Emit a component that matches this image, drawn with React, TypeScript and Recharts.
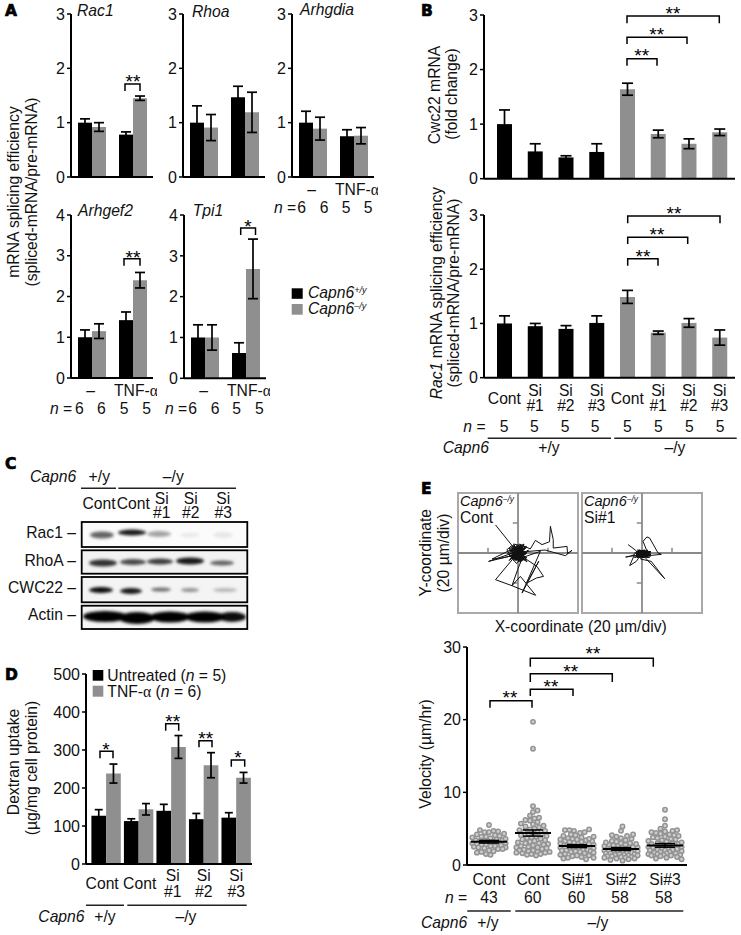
import {
  BarChart,
  Bar,
  Cell,
  ErrorBar,
  XAxis,
  YAxis,
  LineChart,
  Line,
  ScatterChart,
  Scatter,
  ReferenceLine,
  ReferenceArea,
} from "recharts";

const BLACK = "#000000";
const GRAY = "#8f8f8f";
const FONT = "'Liberation Sans', Arial, sans-serif";
const TEXT_SIZE = 15.7;
const TICK_SIZE = 16;

// panel A: order is [untreated, TNF] for each genotype
const treatLabels = ["–", "TNF-α"];
const rac1Wt = [1.0, 0.78];
const rac1WtErr = [0.07, 0.05];
const rac1Ko = [0.92, 1.45];
const rac1KoErr = [0.08, 0.04];
const rhoaWt = [1.0, 1.47];
const rhoaWtErr = [0.31, 0.2];
const rhoaKo = [0.91, 1.19];
const rhoaKoErr = [0.24, 0.37];
const arhgdiaWt = [1.0, 0.75];
const arhgdiaWtErr = [0.21, 0.12];
const arhgdiaKo = [0.89, 0.76];
const arhgdiaKoErr = [0.21, 0.15];
const arhgef2Wt = [1.0, 1.42];
const arhgef2WtErr = [0.18, 0.2];
const arhgef2Ko = [1.15, 2.4];
const arhgef2KoErr = [0.18, 0.19];
const tpi1Wt = [1.0, 0.62];
const tpi1WtErr = [0.31, 0.25];
const tpi1Ko = [1.0, 2.68];
const tpi1KoErr = [0.31, 0.73];
const nValues = ["6", "6", "5", "5"];

// panel B
const siLabels = ["Cont", "Si\n#1", "Si\n#2", "Si\n#3", "Cont", "Si\n#1", "Si\n#2", "Si\n#3"];
const cwc22Means = [1.0, 0.5, 0.39, 0.49, 1.64, 0.82, 0.64, 0.85];
const cwc22Errs = [0.26, 0.14, 0.03, 0.15, 0.11, 0.07, 0.09, 0.06];
const rac1SplicingMeans = [1.0, 0.95, 0.9, 1.01, 1.49, 0.83, 1.01, 0.74];
const rac1SplicingErrs = [0.14, 0.05, 0.06, 0.13, 0.12, 0.03, 0.08, 0.14];

// panel D
const dextranLabels = ["Cont", "Cont", "Si\n#1", "Si\n#2", "Si\n#3"];
const dextranUntreated = [127, 113, 140, 118, 122];
const dextranUntreatedErr = [16, 6, 17, 15, 13];
const dextranTnf = [238, 144, 308, 260, 227];
const dextranTnfErr = [25, 15, 30, 33, 14];

// panel E tracks, in µm
const contTrack = [
  [-15, 18.7], [-4, 5], [-7.4, 2.2], [-5, -2], [3, 4], [-2, -5], [5, 1], [-6, 3], [1, -6], [6, -3],
  [-4, -1], [2, 5], [-3, -4], [7, 2], [-1, -7], [-7, 0], [4, 6], [0, -3], [5, -5], [-5, 4],
  [4, 3], [-3, -5], [5, 4], [-6, -1], [2, -6], [-4, 5], [6, 0], [-2, -3], [3, 5], [-5, -4], [1, 6],
  [8.2, 2.7], [11.6, 8.4], [16, 5.6], [21, 7.5], [21.6, 17.8], [23.5, 8.9], [23.5, 3.3], [32.7, 4.4],
  [33, -0.4], [36, 1.8], [31.6, -1.8], [18, 2], [6, 1], [2, -2], [-3, 6], [6, 4], [-6, -5], [1, 2],
  [-2, -2], [4, -4], [-5, 2], [3, -5], [-4, -3], [5, 3], [-19.6, -5.6], [-1, -1], [-15, -17.8], [-4, -21.8],
  [1.6, -15.6], [11.8, -28.2], [-4, -21.8], [-0.2, -11], [3, -3], [14.9, 1.1], [2.7, -26.7], [13.8, -5.6],
  [6, -20], [12.2, -16.7], [17, -15.6], [12.6, -8.9], [6, -4.5], [-4, 2], [3, 0], [-1, 4], [-17.3, -4],
  [-10.7, -3.3], [0, -1], [2, 3], [-3, -1], [1, -4], [-1, 1], [3, -2], [-2, 3], [1, 0], [-1, -2],
  [4, 3], [-4, -4], [5, -1], [-3, 5], [2, -5], [-5, 0], [0, 5], [6, -6], [-2, 1], [3, 2], [-3, -3],
  [2, 0], [-1, 3], [1, -2], [0, 1], [-2, -1], [2, 2], [-1, 0], [1, 1], [4, -2], [-4, 1], [3, -4],
  [-3, 3], [5, -3], [-5, -2], [2, 4], [-2, -4], [4, 1], [-4, -1], [1, -5], [-1, 5], [3, 3], [-3, 0],
  [2, -3], [-2, 2], [0, -4], [0, 3], [4, -1], [-4, 3], [1, 4], [-1, -5], [3, 1], [-3, 2], [2, 1],
  [-2, 0], [1, -1], [-1, 2], [0, -2], [0, 2], [2, -1], [-2, -3], [1, 3], [-1, -4], [3, 1], [-3, -2],
];
const siTrack = [
  [-9.3, 5.6], [-4.2, 1.8], [-1, -2], [3, 1], [-3, -3], [5, -1], [-4, 1], [4, -3], [-2, 2], [6, 0],
  [-10.9, -2.7], [-7.5, -2], [-5, -1], [-8.2, -8.4], [-3.8, -5.6], [-2, -3], [3, 2], [0.7, 7.8],
  [3.3, 10.7], [5.1, 10], [10.7, 0], [12.9, -0.9], [2, -2], [-3, 1], [5, 1], [-5, -2], [4, 2], [-1, -4],
  [6.2, -5.6], [15.1, -17.1], [2, -3], [-4, -2], [5, -2], [-2, 1], [3, -3], [-5, 0], [6, 1], [-3, -3],
  [2, 2], [-4, 1], [4, -1], [-1, -3], [3, 1], [-3, 0], [2, -2], [-2, -1], [4, 0], [0, 1], [1, -2],
  [5, -3], [-4, -1], [6, -2], [-3, 2], [4, 1], [-5, -3], [3, -1], [-2, -3], [1, 2], [-1, -1], [5, 0],
  [-4, 0], [2, -3], [-3, -2], [6, -1], [-2, 0], [3, 0], [-1, 1], [4, -2], [0, -3], [2, 0], [-3, -1],
  [1, -1], [-1, -2], [0, 0], [2, -1], [-2, -2], [3, -2], [1, 1],
];

// panel E velocity
const velocityLabels = ["Cont", "Cont", "Si#1", "Si#2", "Si#3"];
const velocityN = ["43", "60", "60", "58", "58"];
const velocityMeans = [3.2, 4.4, 2.6, 2.2, 2.7];
const velocitySems = [0.18, 0.42, 0.2, 0.2, 0.25];
const velocityWt = [
  5.5, 4.8, 4.7, 4.6, 4.5, 4.5, 4.3, 4.2, 4.1, 4.0, 3.9, 3.9, 3.8, 3.7, 3.6, 3.5, 3.4, 3.4, 3.3, 3.3, 3.2, 3.2,
  3.1, 3.0, 3.0, 2.9, 2.8, 2.8, 2.7, 2.6, 2.6, 2.5, 2.4, 2.4, 2.3, 2.2, 2.2, 2.0, 1.9, 1.8, 1.7, 1.5, 1.4,
];
const velocityCont = [
  19.7, 16.0, 8.1, 7.5, 7.3, 6.8, 6.5, 6.4, 6.2, 6.1, 5.9, 5.7, 5.6, 5.4, 5.3, 5.2, 5.0, 4.9, 4.8, 4.7, 4.6, 4.5,
  4.4, 4.3, 4.2, 4.1, 4.0, 3.9, 3.8, 3.7, 3.6, 3.5, 3.4, 3.3, 3.2, 3.1, 3.0, 3.0, 2.9, 2.8, 2.7, 2.6, 2.5, 2.4,
  2.4, 2.3, 2.2, 2.1, 2.0, 2.0, 1.9, 1.8, 1.8, 1.7, 1.7, 1.6, 1.5, 1.5, 1.4, 1.3,
];
const velocitySi1 = [
  4.9, 4.8, 4.8, 4.7, 4.5, 4.4, 4.2, 4.1, 4.0, 3.9, 3.8, 3.7, 3.6, 3.6, 3.5, 3.5, 3.4, 3.3, 3.3, 3.2, 3.2, 3.1,
  3.0, 3.0, 2.9, 2.9, 2.8, 2.8, 2.7, 2.7, 2.6, 2.6, 2.5, 2.5, 2.4, 2.4, 2.3, 2.3, 2.2, 2.2, 2.1, 2.1, 2.0, 2.0,
  1.9, 1.9, 1.8, 1.8, 1.7, 1.6, 1.5, 1.4, 1.3, 1.3, 1.2, 1.1, 1.0, 1.0, 0.9, 0.8,
];
const velocitySi2 = [
  5.3, 4.7, 4.2, 4.1, 4.0, 3.9, 3.7, 3.6, 3.4, 3.3, 3.2, 3.1, 3.0, 3.0, 2.9, 2.8, 2.8, 2.7, 2.7, 2.6, 2.6, 2.5,
  2.5, 2.4, 2.4, 2.3, 2.3, 2.2, 2.2, 2.1, 2.1, 2.0, 2.0, 1.9, 1.9, 1.8, 1.8, 1.7, 1.7, 1.6, 1.6, 1.5, 1.5, 1.4,
  1.4, 1.3, 1.3, 1.2, 1.2, 1.1, 1.1, 1.0, 1.0, 0.9, 0.9, 0.8, 0.7, 0.6,
];
const velocitySi3 = [
  7.6, 6.3, 5.4, 5.0, 4.8, 4.7, 4.6, 4.5, 4.4, 4.3, 4.2, 4.1, 4.0, 3.9, 3.8, 3.7, 3.6, 3.5, 3.4, 3.3, 3.2, 3.1,
  3.0, 3.0, 2.9, 2.9, 2.8, 2.8, 2.7, 2.6, 2.6, 2.5, 2.5, 2.4, 2.3, 2.3, 2.2, 2.1, 2.1, 2.0, 2.0, 1.9, 1.8, 1.8,
  1.7, 1.6, 1.6, 1.5, 1.5, 1.4, 1.4, 1.3, 1.3, 1.2, 1.1, 1.0, 0.9, 0.8,
];
const velocityGroups = [velocityWt, velocityCont, velocitySi1, velocitySi2, velocitySi3];

const pairedRows = (labels, a, aErr, b, bErr) =>
  labels.map((label, i) => ({ label, a: a[i], aErr: aErr[i], b: b[i], bErr: bErr[i] }));
const singleRows = (labels, a, aErr) => labels.map((label, i) => ({ label, a: a[i], aErr: aErr[i] }));

// spreads the dots of one column sideways, the middle of the column first
function swarm(values, column, mean) {
  const placed = [];
  const order = [...values].sort((p, q) => Math.abs(p - mean) - Math.abs(q - mean));
  return order.map((v) => {
    let best = 0;
    let bestDist = -1;
    for (let k = 0; k <= 11; k++) {
      for (const off of k === 0 ? [0] : k % 2 ? [k * 1.5, -k * 1.5] : [-k * 1.5, k * 1.5]) {
        let dist = 99;
        for (const p of placed) dist = Math.min(dist, Math.hypot(p.off - off, (p.v - v) * 7.27));
        if (dist > bestDist + 0.01) {
          bestDist = dist;
          best = off;
        }
        if (dist >= 4.4) break;
      }
      if (bestDist >= 4.4) break;
    }
    placed.push({ off: best, v });
    return { x: column + best / 43.7, y: v };
  });
}

function labelText(s) {
  if (s.includes("α")) {
    return (
      <>
        {s.replace("α", "")}
        <tspan fontFamily="'Liberation Serif', serif">α</tspan>
      </>
    );
  }
  return s;
}

function LabelTick({ x, y, index, labels, shifts, oneY, twoY }) {
  const lines = labels[index].split("\n");
  const px = x + (shifts ? shifts[index] : 0);
  if (lines.length === 1) {
    return (
      <text x={px} y={y + oneY} textAnchor="middle" fontSize={TEXT_SIZE} fill="#111">
        {labelText(lines[0])}
      </text>
    );
  }
  return (
    <text textAnchor="middle" fontSize={TEXT_SIZE} fill="#111">
      <tspan x={px} y={y + twoY[0]}>{lines[0]}</tspan>
      <tspan x={px} y={y + twoY[1]}>{lines[1]}</tspan>
    </text>
  );
}

function BarPanel({ axisX, topY, zeroY, rightX, max, ticks, rows, series, barSize, padLeft, padRight, labels, shifts, oneY, twoY, cap = 5 }) {
  const xHeight = labels ? 44 : 12;
  return (
    <div style={{ position: "absolute", left: axisX - 40, top: topY - 10 }}>
      <BarChart
        width={rightX - axisX + 44}
        height={zeroY - topY + 10 + xHeight}
        data={rows}
        margin={{ top: 10, right: 4, bottom: 0, left: 0 }}
        barGap={0}
        barSize={barSize}
      >
        <XAxis
          dataKey="label"
          height={xHeight}
          padding={{ left: padLeft, right: padRight }}
          axisLine={{ stroke: BLACK, strokeWidth: 2 }}
          tickLine={false}
          tickSize={0}
          tickMargin={0}
          interval={0}
          tick={labels ? (p) => <LabelTick {...p} labels={labels} shifts={shifts} oneY={oneY} twoY={twoY} /> : false}
        />
        <YAxis
          type="number"
          width={40}
          domain={[0, max]}
          ticks={ticks}
          interval={0}
          tickSize={4}
          tickMargin={2}
          axisLine={{ stroke: BLACK, strokeWidth: 2 }}
          tickLine={{ stroke: BLACK, strokeWidth: 1.5 }}
          tick={{ fontSize: TICK_SIZE, fill: "#111" }}
        />
        {series.map((s) => (
          <Bar key={s.key} dataKey={s.key} fill={s.color || GRAY} isAnimationActive={false}>
            {s.cellColors && s.cellColors.map((c, i) => <Cell key={i} fill={c} />)}
            <ErrorBar dataKey={s.err} width={cap} stroke={BLACK} strokeWidth={1.7} direction="y" />
          </Bar>
        ))}
      </BarChart>
    </div>
  );
}

function TrackPanel({ left, top, track, tickKeys }) {
  const rows = track.map(([x, y]) => ({ x, y }));
  const cross = "#8a8a8a";
  return (
    <div style={{ position: "absolute", left: left - 2, top: top - 2 }}>
      <LineChart width={124} height={124} data={rows} margin={{ top: 2, right: 2, bottom: 2, left: 2 }}>
        <XAxis type="number" dataKey="x" domain={[-40, 40]} hide />
        <YAxis type="number" dataKey="y" domain={[-40, 40]} hide />
        <ReferenceArea x1={-40} x2={40} y1={-40} y2={40} fill="#fff" stroke="#a9a9a9" strokeWidth={2} />
        <ReferenceLine x={0} stroke={cross} strokeWidth={1.8} />
        <ReferenceLine y={0} stroke={cross} strokeWidth={1.8} />
        {tickKeys.map((t) => (
          <ReferenceLine key={"x" + t} segment={[{ x: t, y: 0 }, { x: t, y: 3.5 }]} stroke={cross} strokeWidth={1.5} />
        ))}
        {tickKeys.map((t) => (
          <ReferenceLine key={"y" + t} segment={[{ x: -3.5, y: t }, { x: 0, y: t }]} stroke={cross} strokeWidth={1.5} />
        ))}
        <Line dataKey="y" type="linear" stroke="#111" strokeWidth={1} dot={false} isAnimationActive={false} />
      </LineChart>
    </div>
  );
}

function VelocityPanel() {
  const meanRows = velocityMeans.map((y, i) => ({ x: i, y }));
  const upperRows = velocityMeans.map((y, i) => ({ x: i, y: y + velocitySems[i] }));
  const lowerRows = velocityMeans.map((y, i) => ({ x: i, y: y - velocitySems[i] }));
  const capShape = (half, width) => (p) => (
    <line x1={p.cx - half} x2={p.cx + half} y1={p.cy} y2={p.cy} stroke={BLACK} strokeWidth={width} />
  );
  return (
    <div style={{ position: "absolute", left: 467 - 40, top: 646.7 - 10 }}>
      <ScatterChart width={264} height={276} margin={{ top: 10, right: 4, bottom: 0, left: 0 }}>
        <XAxis
          type="number"
          dataKey="x"
          domain={[-0.5, 4.5]}
          ticks={[0, 1, 2, 3, 4]}
          interval={0}
          height={48}
          axisLine={{ stroke: BLACK, strokeWidth: 2 }}
          tickLine={false}
          tickSize={0}
          tickMargin={0}
          tick={(p) => <LabelTick {...p} labels={velocityLabels} oneY={19.5} />}
        />
        <YAxis
          type="number"
          dataKey="y"
          width={40}
          domain={[0, 30]}
          ticks={[0, 10, 20, 30]}
          interval={0}
          tickSize={4}
          tickMargin={2}
          axisLine={{ stroke: BLACK, strokeWidth: 2 }}
          tickLine={{ stroke: BLACK, strokeWidth: 1.5 }}
          tick={{ fontSize: TICK_SIZE, fill: "#111" }}
        />
        {velocityGroups.map((values, i) => (
          <Scatter
            key={i}
            data={swarm(values, i, velocityMeans[i])}
            isAnimationActive={false}
            shape={(p) => <circle cx={p.cx} cy={p.cy} r={2.2} fill="#cfcfcf" stroke="#939393" strokeWidth={1.5} />}
          />
        ))}
        <Scatter data={meanRows} isAnimationActive={false} shape={capShape(18, 2)} />
        <Scatter data={upperRows} isAnimationActive={false} shape={capShape(10, 1.5)} />
        <Scatter data={lowerRows} isAnimationActive={false} shape={capShape(10, 1.5)} />
        {velocityMeans.map((m, i) => (
          <Scatter
            key={"sem" + i}
            data={[{ x: i, y: m - velocitySems[i] }, { x: i, y: m + velocitySems[i] }]}
            line={{ stroke: BLACK, strokeWidth: 1.4 }}
            isAnimationActive={false}
            shape={() => null}
          />
        ))}
      </ScatterChart>
    </div>
  );
}

// overlay helpers
function T({ x, y, children, size = TEXT_SIZE, anchor = "start", italic = false, rotate = false, weight = "normal" }) {
  return (
    <text
      x={x}
      y={y}
      fontSize={size}
      fill="#111"
      textAnchor={anchor}
      fontStyle={italic ? "italic" : "normal"}
      fontWeight={weight}
      transform={rotate ? `rotate(-90 ${x} ${y})` : undefined}
    >
      {children}
    </text>
  );
}

const Letter = ({ x, y, children }) => (
  <text x={x} y={y} fontFamily="'DejaVu Sans', sans-serif" fontWeight="bold" fontSize={15.5} stroke="#000" strokeWidth={0.7} fill="#000">
    {children}
  </text>
);

// x1-x2 bracket at height y with legs down to leg, stars centred on sx with their top at sy
function Bracket({ x1, x2, y, leg, sx, sy, stars = "**", leg2 }) {
  return (
    <g>
      <path d={`M${x1} ${leg}V${y}H${x2}V${leg2 || leg}`} fill="none" stroke="#000" strokeWidth={1.5} />
      <text x={sx} y={sy + 13.7} fontSize={19} textAnchor="middle" fill="#000">
        {stars}
      </text>
    </g>
  );
}

const Rule = ({ x1, x2, y }) => <line x1={x1} x2={x2} y1={y} y2={y} stroke="#222" strokeWidth={1.5} />;

function NRow({ nx, y, xs, values }) {
  return (
    <>
      <text x={nx} y={y} fontSize={TEXT_SIZE} fill="#111">
        <tspan fontStyle="italic">n</tspan> =
      </text>
      {values.map((v, i) => (
        <T key={i} x={xs[i]} y={y} anchor="middle">
          {v}
        </T>
      ))}
    </>
  );
}

function CapnLabel({ x, y, sup, size = TEXT_SIZE }) {
  return (
    <text x={x} y={y} fontSize={size} fontStyle="italic" fill="#111">
      Capn6
      <tspan fontSize={size * 0.58} dy={-size * 0.3}>{sup}</tspan>
    </text>
  );
}

const blotRows = [
  { name: "Rac1", top: 522, bottom: 547, base: 538.3, back: "#fbfbfb", bands: [[102, 535, 12, 3.5, 0.6], [132, 532.5, 14, 3, 0.9], [159, 534, 12, 3, 0.35], [190, 535, 10, 2, 0.08], [223, 535, 10, 3, 0.08]] },
  { name: "RhoA", top: 550.3, bottom: 573.7, base: 565.7, back: "#f3f3f3", bands: [[103, 563, 14, 3.5, 0.8], [133, 562, 13, 3, 0.7], [160, 561.5, 13, 3, 0.75], [190, 561, 14, 3.5, 0.9], [222, 563, 12, 2.5, 0.6]] },
  { name: "CWC22", top: 577, bottom: 602.3, base: 592.7, back: "#f4f4f4", bands: [[101, 590, 12, 3, 0.95], [131, 591, 11, 3, 0.9], [161, 589.5, 10, 2, 0.55], [190, 590, 9, 2, 0.4], [225, 590, 12, 2, 0.25]] },
  { name: "Actin", top: 605.7, bottom: 629, base: 620, back: "#f6f6f6", bands: [[105, 616.5, 22, 5.5, 1], [137, 618, 18, 6, 1], [170, 617, 20, 5.5, 1], [205, 617, 20, 5.5, 1], [232, 617, 14, 5, 0.95]] },
];

function Blots() {
  return (
    <g>
      <defs>
        <filter id="soft" x="-30%" y="-80%" width="160%" height="260%">
          <feGaussianBlur stdDeviation="1.6" />
        </filter>
      </defs>
      {blotRows.map((row) => (
        <g key={row.name}>
          <rect x={81.7} y={row.top} width={165.6} height={row.bottom - row.top} fill={row.back} />
          <g filter="url(#soft)">
            {row.bands.map(([cx, cy, rx, ry, o], i) => (
              <ellipse key={i} cx={cx} cy={cy} rx={rx} ry={ry} fill="#000" opacity={o} />
            ))}
          </g>
          <rect x={81.7} y={row.top} width={165.6} height={row.bottom - row.top} fill="none" stroke="#000" strokeWidth={1.8} />
          <T x={76} y={row.base} anchor="end">{row.name + " –"}</T>
        </g>
      ))}
    </g>
  );
}

function Overlay() {
  return (
    <svg width={741} height={935} style={{ position: "absolute", left: 0, top: 0, fontFamily: FONT }}>
      <Letter x={5} y={15.5}>A</Letter>
      <Letter x={421} y={15.5}>B</Letter>
      <Letter x={5} y={469.3}>C</Letter>
      <Letter x={5} y={680}>D</Letter>
      <Letter x={421} y={494}>E</Letter>

      {/* A */}
      <T x={77} y={16} italic>Rac1</T>
      <T x={192} y={17} italic>Rhoa</T>
      <T x={300} y={15} italic>Arhgdia</T>
      <T x={78} y={215.7} italic>Arhgef2</T>
      <T x={192.7} y={215.7} italic>Tpi1</T>
      <T x={18.5} y={192} anchor="middle" rotate>mRNA splicing efficiency</T>
      <T x={36.5} y={192} anchor="middle" rotate>(spliced-mRNA/pre-mRNA)</T>
      <Bracket x1={125} x2={140} y={84} leg={91} sx={133} sy={74} />
      <Bracket x1={124} x2={140} y={258.7} leg={265.7} sx={133} sy={250} />
      <Bracket x1={240.7} x2={255.5} y={228} leg={235} sx={248} sy={219} stars="*" />
      <NRow nx={274} y={213.3} xs={[301.7, 324, 346, 368]} values={nValues} />
      <NRow nx={50} y={414} xs={[79.3, 101.3, 124, 146.7]} values={nValues} />
      <NRow nx={165} y={414} xs={[192.7, 215, 236.7, 259.3]} values={nValues} />
      <rect x={291.7} y={288.3} width={11} height={10.5} fill={BLACK} />
      <rect x={291.7} y={304} width={11} height={10.7} fill={GRAY} />
      <CapnLabel x={308} y={298} sup="+/y" />
      <CapnLabel x={308} y={314} sup="–/y" />

      {/* B */}
      <T x={440} y={95} anchor="middle" rotate>Cwc22 mRNA</T>
      <T x={457} y={94} anchor="middle" rotate>(fold change)</T>
      <text x={441.7} y={293} fontSize={TEXT_SIZE} fill="#111" textAnchor="middle" transform="rotate(-90 441.7 293)">
        <tspan fontStyle="italic">Rac1</tspan> mRNA splicing efficiency
      </text>
      <T x={459} y={293} anchor="middle" rotate>(spliced-mRNA/pre-mRNA)</T>
      <Bracket x1={627} x2={719.3} y={16} leg={23.3} sx={673} sy={6} />
      <Bracket x1={627} x2={687} y={37.3} leg={44} sx={656.7} sy={27.7} />
      <Bracket x1={627} x2={657} y={58.7} leg={65.7} sx={641.7} sy={48.7} />
      <Bracket x1={627.7} x2={720} y={216} leg={223.3} sx={674} sy={206} />
      <Bracket x1={627.7} x2={687.7} y={237.3} leg={244} sx={657} sy={227.7} />
      <Bracket x1={627.7} x2={658} y={258.7} leg={265.7} sx={643} sy={249} />
      <NRow nx={463.3} y={431.7} xs={[504, 534.3, 565, 595, 627.3, 658.3, 689.3, 720]} values={["5", "5", "5", "5", "5", "5", "5", "5"]} />
      <Rule x1={487.7} x2={611} y={438.3} />
      <Rule x1={614.3} x2={736.7} y={438.3} />
      <T x={442.7} y={453.3} italic>Capn6</T>
      <T x={549} y={453.3} anchor="middle">+/y</T>
      <T x={675} y={453.3} anchor="middle">–/y</T>

      {/* C */}
      <T x={30} y={481.7} italic>Capn6</T>
      <T x={99.3} y={481.7} anchor="middle">+/y</T>
      <T x={173.3} y={481.7} anchor="middle">–/y</T>
      <Rule x1={81} x2={116} y={488.3} />
      <Rule x1={118.3} x2={236} y={488.3} />
      <T x={99} y={509.3} anchor="middle">Cont</T>
      <T x={133.3} y={509.3} anchor="middle">Cont</T>
      <T x={161.7} y={504} anchor="middle">Si</T>
      <T x={161.7} y={518.3} anchor="middle">#1</T>
      <T x={190.7} y={504} anchor="middle">Si</T>
      <T x={190.7} y={518.3} anchor="middle">#2</T>
      <T x={223.3} y={504} anchor="middle">Si</T>
      <T x={223.3} y={518.3} anchor="middle">#3</T>
      <Blots />

      {/* D */}
      <T x={18.7} y={762} anchor="middle" rotate>Dextran uptake</T>
      <T x={36.7} y={768} anchor="middle" rotate>(µg/mg cell protein)</T>
      <rect x={92.7} y={670} width={10.6} height={10.7} fill={BLACK} />
      <rect x={92.7} y={685.7} width={10.6} height={11} fill={GRAY} />
      <text x={107.3} y={680.7} fontSize={TEXT_SIZE} fill="#111">
        Untreated (<tspan fontStyle="italic">n</tspan> = 5)
      </text>
      <text x={107.3} y={696.7} fontSize={TEXT_SIZE} fill="#111">
        TNF-<tspan fontFamily="'Liberation Serif', serif">α</tspan> (<tspan fontStyle="italic">n</tspan> = 6)
      </text>
      <Bracket x1={100} x2={113} y={751.3} leg={758.3} sx={106} sy={742} stars="*" />
      <Bracket x1={165.7} x2={178.7} y={723.7} leg={730.7} sx={172.7} sy={714} />
      <Bracket x1={199} x2={212} y={740.7} leg={747.3} sx={205.7} sy={731} />
      <Bracket x1={231.3} x2={244.7} y={760} leg={766.7} sx={238} sy={750.7} stars="*" />
      <Rule x1={86} x2={124} y={905.3} />
      <Rule x1={127.3} x2={246.7} y={905.3} />
      <T x={38.3} y={921.7} italic>Capn6</T>
      <T x={105} y={921.7} anchor="middle">+/y</T>
      <T x={186} y={921.7} anchor="middle">–/y</T>

      {/* E */}
      <T x={430.7} y={552.7} anchor="middle" rotate>Y-coordinate</T>
      <T x={449} y={553} anchor="middle" rotate>(20 µm/div)</T>
      <T x={580.7} y={632} anchor="middle">X-coordinate (20 µm/div)</T>
      <CapnLabel x={460} y={506} sup="–/y" size={14.5} />
      <T x={460} y={523}>Cont</T>
      <CapnLabel x={584} y={506} sup="–/y" size={14.5} />
      <T x={584} y={523}>Si#1</T>
      <T x={430.7} y={754} anchor="middle" rotate>Velocity (µm/hr)</T>
      <Bracket x1={490} x2={532} y={700.7} leg={707.7} sx={510} sy={690.7} />
      <Bracket x1={530.3} x2={573} y={689.3} leg={696} sx={551} sy={679.3} />
      <Bracket x1={530.3} x2={612.3} y={673.7} leg={682} sx={570.7} sy={664} />
      <Bracket x1={530.3} x2={653.3} y={658.3} leg={666.7} sx={593} sy={646.7} />
      <text x={445} y={902.7} fontSize={TEXT_SIZE} fill="#111">
        <tspan fontStyle="italic">n</tspan> =
      </text>
      {velocityN.map((v, i) => (
        <T key={i} x={489 + i * 43.7} y={902.7} anchor="middle">{v}</T>
      ))}
      <Rule x1={467.3} x2={510.7} y={911} />
      <Rule x1={515.3} x2={683.3} y={911} />
      <T x={421} y={927.7} italic>Capn6</T>
      <T x={488} y={927.7} anchor="middle">+/y</T>
      <T x={598} y={927.7} anchor="middle">–/y</T>
    </svg>
  );
}

const wtKoSeries = [
  { key: "a", err: "aErr", color: BLACK },
  { key: "b", err: "bErr", color: GRAY },
];
const eightColors = [BLACK, BLACK, BLACK, BLACK, GRAY, GRAY, GRAY, GRAY];
const eightSeries = [{ key: "a", err: "aErr", cellColors: eightColors }];

export default function App() {
  const a = { padLeft: 0, padRight: 0, barSize: 14, cap: 5 };
  const treatShift = [-1, 3.5];
  return (
    <div style={{ position: "absolute", left: 0, top: 0, width: 741, height: 935, background: "#fff", overflow: "hidden", fontFamily: FONT }}>
      <BarPanel {...a} axisX={71} topY={14} zeroY={177} rightX={153} max={3} ticks={[0, 1, 2, 3]} rows={pairedRows(treatLabels, rac1Wt, rac1WtErr, rac1Ko, rac1KoErr)} series={wtKoSeries} />
      <BarPanel {...a} axisX={183} topY={14} zeroY={177} rightX={265} max={3} ticks={[0, 1, 2, 3]} rows={pairedRows(treatLabels, rhoaWt, rhoaWtErr, rhoaKo, rhoaKoErr)} series={wtKoSeries} />
      <BarPanel {...a} axisX={292} topY={14} zeroY={177} rightX={374} max={3} ticks={[0, 1, 2, 3]} rows={pairedRows(treatLabels, arhgdiaWt, arhgdiaWtErr, arhgdiaKo, arhgdiaKoErr)} series={wtKoSeries} labels={treatLabels} shifts={treatShift} oneY={18} />
      <BarPanel {...a} axisX={71} topY={214.7} zeroY={377.7} rightX={153} max={4} ticks={[0, 1, 2, 3, 4]} rows={pairedRows(treatLabels, arhgef2Wt, arhgef2WtErr, arhgef2Ko, arhgef2KoErr)} series={wtKoSeries} labels={treatLabels} shifts={treatShift} oneY={17.5} />
      <BarPanel {...a} axisX={184} topY={214.7} zeroY={378} rightX={266} max={4} ticks={[0, 1, 2, 3, 4]} rows={pairedRows(treatLabels, tpi1Wt, tpi1WtErr, tpi1Ko, tpi1KoErr)} series={wtKoSeries} labels={treatLabels} shifts={treatShift} oneY={17.5} />

      <BarPanel axisX={484} topY={15} zeroY={178.7} rightX={735} max={3} ticks={[0, 1, 2, 3]} rows={singleRows(siLabels, cwc22Means, cwc22Errs)} series={eightSeries} barSize={15} padLeft={5} padRight={0} cap={5.5} />
      <BarPanel axisX={484} topY={215} zeroY={377.7} rightX={735} max={3} ticks={[0, 1, 2, 3]} rows={singleRows(siLabels, rac1SplicingMeans, rac1SplicingErrs)} series={eightSeries} barSize={15} padLeft={5} padRight={0} cap={5.5} labels={siLabels} oneY={26} twoY={[18.5, 33.5]} />

      <BarPanel axisX={86} topY={674} zeroY={864} rightX={252} max={500} ticks={[0, 100, 200, 300, 400, 500]} rows={pairedRows(dextranLabels, dextranUntreated, dextranUntreatedErr, dextranTnf, dextranTnfErr)} series={wtKoSeries} barSize={14.7} padLeft={3.4} padRight={0} cap={4} labels={dextranLabels} shifts={[-3.5, 1.5, 2, 0.5, 0.5]} oneY={25} twoY={[16.7, 33.3]} />

      <TrackPanel left={458} top={493} track={contTrack} tickKeys={[-20, 20]} />
      <TrackPanel left={582} top={493} track={siTrack} tickKeys={[-20, 20]} />
      <VelocityPanel />
      <Overlay />
    </div>
  );
}
